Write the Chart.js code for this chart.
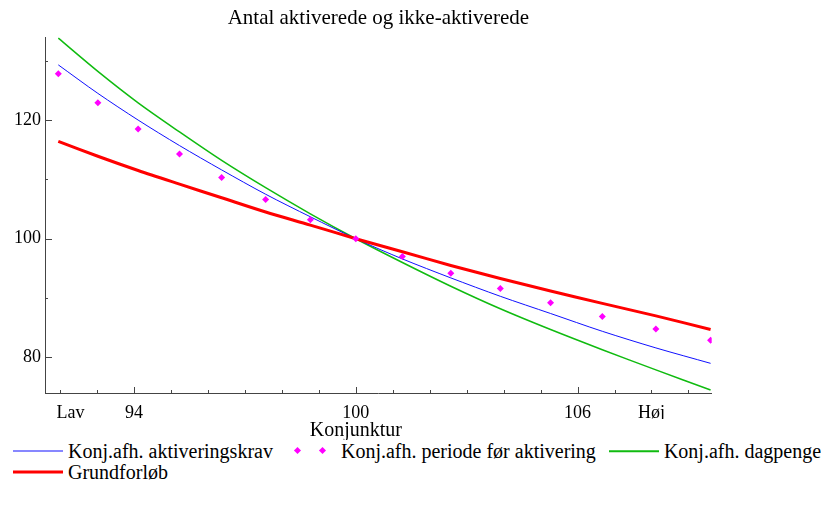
<!DOCTYPE html>
<html>
<head>
<meta charset="utf-8">
<script src="https://cdn.jsdelivr.net/npm/chart.js@4.4.1/dist/chart.umd.min.js"></script>
<style>
  body { margin: 0; background: #fff; }
  #wrap { position: relative; width: 821px; height: 509px; overflow: hidden; font-family: 'Liberation Serif', 'Times New Roman', serif; }
  #chart { position: absolute; left: 0; top: 0; }
  .legendRow { position: absolute; left: 13px; height: 22px; display: flex; align-items: center; white-space: nowrap; font-size: 20px; color: #000; }
  .item { display: flex; align-items: center; margin-right: 13px; }
  .sample { position: relative; width: 50px; height: 22px; margin-right: 5px; }
  .sample .line { position: absolute; left: 0; right: 0; top: 50%; transform: translateY(-50%); }
  .sample .dot { position: absolute; width: 5px; height: 5px; top: 8px; transform: rotate(45deg); }
</style>
</head>
<body>
<div id="wrap">
  <canvas id="chart" width="821" height="440"></canvas>
  <div class="legendRow" id="row1" style="top:440px"></div>
  <div class="legendRow" id="row2" style="top:461px"></div>
</div>
<script>
// Konjunktur (x) og antal, indeks 100 i normal konjunktur
const konjunktur = [91.95, 93.02, 94.11, 95.23, 96.37, 97.56, 98.77, 100, 101.26, 102.57, 103.91, 105.27, 106.67, 108.12, 109.6];
const aktiveringskrav = [129.3, 124.5, 120.0, 115.7, 111.6, 107.5, 103.7, 100, 96.6, 93.4, 90.3, 87.4, 84.4, 81.6, 79.0];
const periodeFoerAktivering = [127.8, 122.9, 118.5, 114.3, 110.3, 106.6, 103.2, 100, 97.0, 94.2, 91.6, 89.2, 86.9, 84.8, 82.9];
const dagpenge = [133.8, 128.2, 122.9, 118.0, 113.2, 108.6, 104.2, 100, 96.0, 92.0, 88.2, 84.7, 81.3, 77.9, 74.5];
const grundforloeb = [116.4, 113.9, 111.5, 109.2, 106.9, 104.5, 102.3, 100, 97.8, 95.5, 93.3, 91.2, 89.1, 87.0, 84.7];

const seriesNames = ['Konj.afh. aktiveringskrav', 'Konj.afh. periode før aktivering', 'Konj.afh. dagpenge', 'Grundforløb'];

// akser
const xLabelValues = [92.28, 94, 100, 106, 108];
const xLabelTexts = ['Lav', '94', '100', '106', 'Høj'];
const xTickMarks = [92, 93, 94, 95, 96, 97, 98, 99, 100, 101, 102, 103, 104, 105, 106, 107, 108, 109];
const xMajorTicks = [94, 100, 106];
const yLabelValues = [80, 100, 120];
const yTickMarks = [80, 90, 100, 110, 120, 130];
const xTitle = 'Konjunktur';
const chartTitle = 'Antal aktiverede og ikke-aktiverede';

const FONT = "'Liberation Serif', 'Times New Roman', serif";
const AXIS_COLOR = '#444';

const pts = (ys) => konjunktur.map((x, i) => ({ x: x, y: ys[i] }));

// små tick-streger ind i plottet, som i originalen
const tickMarks = {
  id: 'tickMarks',
  afterDatasetsDraw(chart) {
    const ctx = chart.ctx;
    const area = chart.chartArea;
    const xs = chart.scales.x;
    const ys = chart.scales.y;
    ctx.save();
    ctx.strokeStyle = AXIS_COLOR;
    ctx.lineWidth = 1;
    ctx.beginPath();
    xTickMarks.forEach((v) => {
      const px = Math.round(xs.getPixelForValue(v)) + 0.5;
      const len = xMajorTicks.includes(v) ? 6 : 3;
      ctx.moveTo(px, area.bottom);
      ctx.lineTo(px, area.bottom - len);
    });
    yTickMarks.forEach((v) => {
      const py = Math.round(ys.getPixelForValue(v)) + 0.5;
      const len = yLabelValues.includes(v) ? 7 : 3;
      ctx.moveTo(area.left, py);
      ctx.lineTo(area.left + len, py);
    });
    ctx.stroke();
    ctx.restore();
  }
};

const styles = [
  { color: '#1010ff', width: 1, order: 2 },
  { color: '#ff00ff', width: 0, order: 0, points: true },
  { color: '#10bb10', width: 1.5, order: 3 },
  { color: '#ff0000', width: 3, order: 1 }
];
const values = [aktiveringskrav, periodeFoerAktivering, dagpenge, grundforloeb];

const datasets = seriesNames.map((name, i) => {
  const s = styles[i];
  if (s.points) {
    return {
      label: name, data: pts(values[i]), showLine: false, order: s.order,
      pointStyle: 'rectRot', pointRadius: 3.5, pointBorderWidth: 0,
      backgroundColor: s.color, borderColor: s.color
    };
  }
  return {
    label: name, data: pts(values[i]), order: s.order,
    borderColor: s.color, borderWidth: s.width, pointRadius: 0, tension: 0.3, fill: false
  };
});

new Chart(document.getElementById('chart'), {
  type: 'line',
  data: { datasets: datasets },
  options: {
    responsive: false,
    animation: false,
    devicePixelRatio: 1,
    layout: { padding: { left: 0, right: 109.3, top: 0, bottom: 0 } },
    plugins: {
      legend: { display: false },
      tooltip: { enabled: false },
      title: {
        display: true,
        text: chartTitle,
        fullSize: false,
        color: '#000',
        font: { family: FONT, size: 21, weight: 'normal' },
        padding: { top: 6, bottom: 5.8 }
      }
    },
    scales: {
      x: {
        type: 'linear',
        min: 91.59,
        max: 109.63,
        afterBuildTicks: (s) => { s.ticks = xLabelValues.map((v) => ({ value: v })); },
        afterFit: (s) => { s.height = 26; },
        grid: { display: false, drawTicks: false },
        border: { color: AXIS_COLOR, width: 1 },
        ticks: {
          autoSkip: false, maxRotation: 0, padding: 9, color: '#000',
          font: { family: FONT, size: 18 },
          callback: (v, i) => xLabelTexts[i]
        }
      },
      x2: {
        type: 'linear',
        position: 'bottom',
        min: 91.59,
        max: 109.63,
        afterBuildTicks: (s) => { s.ticks = [{ value: 100 }]; },
        afterFit: (s) => { s.height = 21; },
        grid: { display: false, drawTicks: false },
        border: { display: false },
        ticks: {
          autoSkip: false, maxRotation: 0, padding: 0, color: '#000',
          font: { family: FONT, size: 20 },
          callback: () => xTitle
        }
      },
      y: {
        min: 74,
        max: 134,
        afterBuildTicks: (s) => { s.ticks = yLabelValues.map((v) => ({ value: v })); },
        afterFit: (s) => { s.width = 45; },
        grid: { display: false, drawTicks: false },
        border: { color: AXIS_COLOR, width: 1 },
        ticks: {
          padding: 4, color: '#000',
          font: { family: FONT, size: 18 },
          callback: (v) => String(v)
        }
      }
    }
  },
  plugins: [tickMarks]
});

// forklaring under diagrammet
function legendItem(i) {
  const s = styles[i];
  const item = document.createElement('div');
  item.className = 'item';
  const sample = document.createElement('div');
  sample.className = 'sample';
  if (s.points) {
    [9, 34].forEach((left) => {
      const d = document.createElement('div');
      d.className = 'dot';
      d.style.left = left + 'px';
      d.style.background = s.color;
      sample.appendChild(d);
    });
  } else {
    const l = document.createElement('div');
    l.className = 'line';
    l.style.height = Math.max(1, s.width) + 'px';
    l.style.background = s.color;
    sample.appendChild(l);
  }
  const text = document.createElement('span');
  text.textContent = seriesNames[i];
  item.appendChild(sample);
  item.appendChild(text);
  return item;
}
[0, 1, 2].forEach((i) => document.getElementById('row1').appendChild(legendItem(i)));
document.getElementById('row2').appendChild(legendItem(3));
</script>
</body>
</html>
